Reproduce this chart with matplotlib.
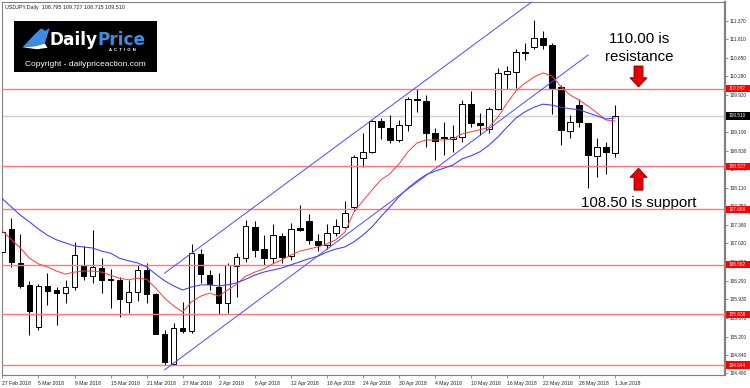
import matplotlib
matplotlib.use("Agg")
import matplotlib.pyplot as plt
import matplotlib.transforms as mtransforms
from matplotlib.patches import Rectangle, FancyArrow, Polygon
import pandas as pd

# USDJPY daily, 27 Feb 2018 - 1 Jun 2018 (weekdays)
dates = pd.bdate_range("2018-02-27", "2018-06-01")

opens = [106.85, 107.30, 106.64, 106.20, 105.39, 106.19, 106.11, 106.05, 106.16, 106.60,
         106.39, 106.54, 106.33, 106.31, 105.87, 106.07, 106.51, 106.03, 105.26, 104.66,
         105.37, 105.30, 106.81, 106.40, 106.16, 105.85, 106.57, 106.73, 107.35, 106.91,
         106.73, 107.17, 106.77, 107.32, 107.46, 107.07, 106.98, 107.22, 107.35, 107.74,
         108.68, 108.80, 109.41, 109.28, 109.04, 109.33, 109.84, 109.81, 109.18, 109.10,
         109.06, 109.10, 109.74, 109.38, 109.25, 109.64, 110.33, 110.37, 110.75, 110.86,
         111.03, 110.90, 110.07, 109.22, 109.72, 109.37, 108.73, 108.90, 108.795]
highs = [107.69, 107.51, 107.20, 106.29, 106.22, 106.45, 106.17, 106.31, 107.05, 106.96,
         107.28, 106.73, 106.53, 106.37, 106.31, 106.60, 106.63, 106.06, 105.33, 105.46,
         105.88, 107.00, 106.91, 106.51, 106.44, 106.64, 106.84, 107.48, 107.46, 107.18,
         107.40, 107.23, 107.41, 107.77, 107.59, 107.20, 107.39, 107.49, 107.84, 108.75,
         109.17, 109.44, 109.46, 109.53, 109.44, 109.87, 110.03, 109.92, 109.27, 109.40,
         109.33, 109.82, 110.00, 109.56, 109.68, 110.44, 110.49, 110.81, 110.93, 111.38,
         111.17, 110.93, 110.11, 109.53, 109.84, 109.38, 109.07, 109.01, 109.727]
lows = [106.75, 106.55, 106.14, 105.23, 105.32, 105.82, 105.43, 105.86, 106.11, 106.31,
        106.24, 106.05, 105.76, 105.59, 105.66, 105.90, 105.86, 105.25, 104.65, 104.644,
        105.28, 105.28, 106.24, 106.11, 105.64, 105.67, 105.97, 106.66, 106.75, 106.60,
        106.63, 106.63, 106.70, 107.26, 107.00, 106.88, 106.92, 107.17, 107.32, 107.66,
        108.52, 108.78, 109.06, 108.98, 109.01, 109.22, 109.59, 108.91, 108.65, 108.75,
        108.81, 109.01, 109.29, 109.14, 109.18, 109.63, 110.04, 110.05, 110.60, 110.82,
        110.81, 109.55, 108.94, 109.07, 109.30, 108.10, 108.32, 108.38, 108.715]
closes = [107.24, 106.66, 106.19, 105.70, 106.19, 106.10, 106.05, 106.17, 106.79, 106.39,
          106.55, 106.31, 106.31, 105.93, 106.07, 106.51, 106.03, 105.26, 104.70, 105.37,
          105.30, 106.83, 106.42, 106.22, 105.86, 106.60, 106.76, 107.36, 106.89, 106.74,
          107.18, 106.76, 107.30, 107.29, 107.09, 106.98, 107.22, 107.36, 107.61, 108.70,
          108.81, 109.41, 109.29, 109.04, 109.33, 109.85, 109.82, 109.18, 109.02, 109.07,
          109.10, 109.74, 109.38, 109.34, 109.65, 110.35, 110.39, 110.76, 110.73, 111.04,
          110.89, 110.06, 109.24, 109.39, 109.40, 108.75, 108.90, 108.80, 109.510]

ma_fast = [107.26, 107.09, 106.93, 106.73, 106.62, 106.56, 106.48, 106.42, 106.46, 106.48,
           106.48, 106.46, 106.40, 106.34, 106.31, 106.34, 106.32, 106.15, 105.95, 105.80,
           105.68, 105.88, 105.99, 106.05, 105.99, 106.11, 106.23, 106.38, 106.46, 106.52,
           106.62, 106.70, 106.79, 106.87, 106.91, 106.95, 107.01, 107.09, 107.24, 107.63,
           107.85, 108.06, 108.26, 108.38, 108.57, 108.81, 108.98, 109.04, 109.04, 109.04,
           109.06, 109.16, 109.20, 109.24, 109.29, 109.49, 109.76, 110.00, 110.15, 110.27,
           110.35, 110.29, 110.08, 109.92, 109.82, 109.70, 109.57, 109.43, 109.41]
ma_slow = [107.89, 107.73, 107.57, 107.44, 107.30, 107.18, 107.09, 107.03, 106.97, 106.95,
           106.93, 106.87, 106.83, 106.73, 106.68, 106.64, 106.56, 106.42, 106.29, 106.19,
           106.11, 106.17, 106.21, 106.21, 106.19, 106.21, 106.25, 106.32, 106.40, 106.46,
           106.50, 106.54, 106.60, 106.66, 106.72, 106.77, 106.85, 106.91, 106.95, 107.05,
           107.18, 107.34, 107.54, 107.73, 107.93, 108.10, 108.24, 108.36, 108.43, 108.49,
           108.55, 108.67, 108.73, 108.81, 108.94, 109.10, 109.29, 109.47, 109.59, 109.68,
           109.74, 109.72, 109.68, 109.65, 109.63, 109.57, 109.51, 109.45, 109.47]

# channel trendlines: (bar index, price) anchors
upper_channel = ([18, 59], [106.44, 111.77])
lower_channel = ([18, 65], [104.55, 110.70])

levels = [110.042, 108.527, 107.686, 106.602, 105.636, 104.644]
last_price = 109.510

yticks = [104.48, 104.84, 105.20, 105.57, 105.93, 106.29, 106.65, 107.02, 107.38, 107.75,
          108.11, 108.47, 108.83, 109.19, 109.55, 109.92, 110.28, 110.65, 111.01, 111.37]
xtick_labels = ["27 Feb 2018", "5 Mar 2018", "9 Mar 2018", "15 Mar 2018", "21 Mar 2018",
                "27 Mar 2018", "2 Apr 2018", "6 Apr 2018", "12 Apr 2018", "18 Apr 2018",
                "24 Apr 2018", "30 Apr 2018", "4 May 2018", "10 May 2018", "16 May 2018",
                "22 May 2018", "28 May 2018", "1 Jun 2018"]

FONT = "Liberation Sans"
GREY = "#808080"

fig = plt.figure(figsize=(7.5, 3.88), dpi=100)
ax = fig.add_axes([2 / 750, 1 - 375 / 388, 723 / 750, 373 / 388])

idx = list(range(len(dates)))

# candles
for i in idx:
    o, h, l, c = opens[i], highs[i], lows[i], closes[i]
    ax.plot([i, i], [l, h], color="black", lw=0.75, zorder=2, solid_capstyle="butt")
    bull = c >= o
    ax.bar(i, max(abs(c - o), 0.004), bottom=min(o, c), width=0.62,
           color="white" if bull else "black", edgecolor="black", linewidth=0.7, zorder=3)

# horizontal levels and last price
ax.axhline(last_price, color="#d0d0d0", lw=1.0, zorder=1)
for lev in levels:
    ax.axhline(lev, color="#ff7a7a", lw=1.0, zorder=4)

# moving averages
ax.plot(idx, ma_fast, color="#ff3b3b", lw=0.7, zorder=5)
ax.plot(idx, ma_slow, color="#3b3bff", lw=0.75, zorder=5)

# channel
ax.plot(*upper_channel, color="#4a4aff", lw=0.7, zorder=5)
ax.plot(*lower_channel, color="#4a4aff", lw=0.7, zorder=5)

ax.set_xlim(-0.05, 80.2)
ax.set_ylim(104.45, 111.735)

# axes styling
for s in ax.spines.values():
    s.set_color(GREY)
    s.set_linewidth(0.8)
ax.spines["right"].set_linewidth(1.6)

ax.yaxis.tick_right()
ax.set_yticks(yticks, [f"{v:.3f}" for v in yticks])
ax.set_xticks(idx[::4], xtick_labels)
ax.tick_params(axis="y", length=2, width=0.6, color=GREY, pad=1.5, labelsize=3.4,
               labelcolor="#222222")
ax.tick_params(axis="x", length=2, width=0.6, color=GREY, pad=2, labelsize=3.7,
               labelcolor="#222222")
for lab in ax.get_xticklabels() + ax.get_yticklabels():
    lab.set_fontfamily(FONT)
for lab in ax.get_xticklabels():
    lab.set_ha("left")

# price boxes on the right scale (drawn over the tick labels, as in the terminal)
trans = mtransforms.blended_transform_factory(ax.transAxes, ax.transData)
boxes = [(lev, "#ff0000") for lev in levels] + [(last_price, "black")]
for val, col in boxes:
    ax.add_patch(Rectangle((1.001, val - 0.07), 0.06, 0.14, transform=trans,
                           facecolor=col, edgecolor="none", clip_on=False, zorder=10))
    ax.text(1.0045, val, f"{val:.3f}", transform=trans, color="white", fontsize=3.4,
            family=FONT, ha="left", va="center", clip_on=False, zorder=11)

# annotations
ax.text(70.65, 110.93, "110.00 is", fontsize=10.8, family=FONT, ha="center", va="baseline")
ax.text(70.65, 110.585, "resistance", fontsize=10.8, family=FONT, ha="center", va="baseline")
ax.text(70.65, 107.74, "108.50 is support", fontsize=10.8, family=FONT, ha="center",
        va="baseline")
ax.add_patch(FancyArrow(70.6, 110.485, 0, -0.41, width=1.0, head_width=1.9, head_length=0.18,
                        length_includes_head=True, fc="#e60000", ec="#8a0000", lw=0.6, zorder=8))
ax.add_patch(FancyArrow(70.6, 108.06, 0, 0.43, width=1.0, head_width=1.9, head_length=0.18,
                        length_includes_head=True, fc="#e60000", ec="#8a0000", lw=0.6, zorder=8))

# chart header
fig.text(5 / 750, 1 - 8 / 388, "USDJPY,Daily  108.795 109.727 108.715 109.510",
         fontsize=3.9, family=FONT, va="center", ha="left", color="#222222")

# logo
lax = fig.add_axes([14 / 750, 1 - 71.7 / 388, 143 / 750, 51 / 388])
lax.set_facecolor("black")
lax.set_xticks([])
lax.set_yticks([])
for s in lax.spines.values():
    s.set_visible(False)
lax.set_xlim(0, 1)
lax.set_ylim(0, 1)
lax.add_patch(Polygon([(0.06, 0.48), (0.14, 0.72), (0.19, 0.85), (0.22, 0.80),
                       (0.25, 0.86), (0.215, 0.55), (0.15, 0.50)],
                      closed=True, fc="#3a8ee6", ec="none"))
lax.add_patch(Polygon([(0.06, 0.48), (0.15, 0.50), (0.215, 0.55), (0.235, 0.47),
                       (0.16, 0.44)], closed=True, fc="white", ec="none"))
daily = lax.text(0.245, 0.63, "Daily", color="white", fontsize=12.2, fontweight="bold",
                 family="DejaVu Sans", ha="left", va="center")
lax.annotate("Price", xy=(1, 0), xycoords=daily, color="#3a8ee6", fontsize=12.2,
             fontweight="bold", family="DejaVu Sans", ha="left", va="bottom")
lax.text(0.76, 0.42, "A  C  T  I  O  N", color="white", fontsize=3.0, family=FONT,
         ha="center", va="center", fontweight="bold")
lax.text(0.497, 0.15, "Copyright - dailypriceaction.com", color="white", fontsize=6.0,
         family=FONT, ha="center", va="center")

fig.savefig("out.png", dpi=100, facecolor="white")
